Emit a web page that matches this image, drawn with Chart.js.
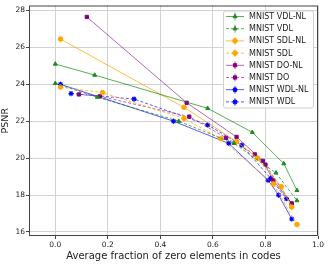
<!DOCTYPE html>
<html lang="en">
<head>
    <meta charset="UTF-8">
    <title>PSNR vs sparsity</title>
    <style>
        html, body { margin: 0; padding: 0; background: #fff; }
        #wrap { width: 330px; height: 264px; }
    </style>
</head>
<body>
    <div id="wrap"><canvas id="psnrChart"></canvas></div>

    <script src="https://cdn.jsdelivr.net/npm/chart.js"></script>

    <script>
        // values
        const vdlNlX = [0.0, 0.15, 0.58, 0.75, 0.87, 0.92];
        const vdlNlY = [25.1, 24.5, 22.7, 21.4, 19.7, 18.25];
        const vdlX = [0.0, 0.16, 0.47, 0.68, 0.84, 0.92];
        const vdlY = [24.05, 23.3, 22.0, 20.8, 19.2, 17.7];
        const sdlNlX = [0.02, 0.49, 0.69, 0.77, 0.86, 0.90];
        const sdlNlY = [26.45, 22.75, 20.9, 20.0, 18.45, 17.35];
        const sdlX = [0.02, 0.18, 0.49, 0.63, 0.83, 0.92];
        const sdlY = [23.85, 23.55, 22.15, 21.05, 18.6, 16.4];
        const doNlX = [0.12, 0.50, 0.69, 0.79, 0.83, 0.90];
        const doNlY = [27.65, 23.0, 21.15, 19.85, 18.8, 17.55];
        const doX = [0.09, 0.17, 0.51, 0.65, 0.76, 0.80, 0.90];
        const doY = [23.45, 23.35, 22.25, 21.1, 20.2, 19.65, 17.5];
        const wdlNlX = [0.02, 0.45, 0.66, 0.81, 0.85, 0.90];
        const wdlNlY = [24.0, 22.0, 20.8, 18.8, 18.0, 16.7];
        const wdlX = [0.06, 0.30, 0.58, 0.71, 0.82, 0.88];
        const wdlY = [23.5, 23.2, 21.8, 20.7, 18.9, 17.8];

        const xTicks = [0.0, 0.2, 0.4, 0.6, 0.8, 1.0];
        const yTicks = [16, 18, 20, 22, 24, 26, 28];

        function pts(xs, ys) {
            return xs.map((x, i) => ({ x: x, y: ys[i] }));
        }

        function series(label, xs, ys, color, lineColor, marker, dashed) {
            return {
                label: label,
                data: pts(xs, ys),
                showLine: true,
                borderColor: lineColor,
                borderWidth: 1,
                borderDash: dashed ? [3, 2] : [],
                pointStyle: marker,
                pointRadius: marker === 'star' ? 2.6 : 2.3,
                pointBorderWidth: marker === 'star' ? 1.2 : 1,
                pointBackgroundColor: color,
                pointBorderColor: color,
                fill: false
            };
        }

        const datasets = [
            series('MNIST VDL-NL', vdlNlX, vdlNlY, '#1f8a1f', 'rgba(0,128,0,0.65)', 'triangle', false),
            series('MNIST VDL', vdlX, vdlY, '#1f8a1f', 'rgba(0,128,0,0.65)', 'triangle', true),
            series('MNIST SDL-NL', sdlNlX, sdlNlY, '#ffa500', 'rgba(255,165,0,0.75)', 'circle', false),
            series('MNIST SDL', sdlX, sdlY, '#ffa500', 'rgba(255,165,0,0.75)', 'circle', true),
            series('MNIST DO-NL', doNlX, doNlY, '#800080', 'rgba(128,0,128,0.6)', 'rect', false),
            series('MNIST DO', doX, doY, '#800080', 'rgba(128,0,128,0.6)', 'rect', true),
            series('MNIST WDL-NL', wdlNlX, wdlNlY, '#0000ff', 'rgba(0,0,255,0.65)', 'star', false),
            series('MNIST WDL', wdlX, wdlY, '#0000ff', 'rgba(0,0,255,0.65)', 'star', true)
        ];

        // box around the plot area
        const frame = {
            id: 'frame',
            afterDatasetsDraw(chart) {
                const a = chart.chartArea;
                const c = chart.ctx;
                c.save();
                c.strokeStyle = '#444';
                c.lineWidth = 1;
                c.strokeRect(a.left + 0.5, a.top + 0.5, a.right - a.left - 1, a.bottom - a.top - 1);
                c.restore();
            }
        };

        // matplotlib-like legend inside the top-right corner
        const boxLegend = {
            id: 'boxLegend',
            afterDraw(chart) {
                const c = chart.ctx;
                const a = chart.chartArea;
                const bx = a.right - 95, by = a.top + 5, bw = 90, bh = 97;
                c.save();
                c.fillStyle = 'rgba(255,255,255,0.85)';
                c.strokeStyle = '#d0d0d0';
                c.lineWidth = 1;
                c.beginPath();
                c.roundRect(bx + 0.5, by + 0.5, bw, bh, 2);
                c.fill();
                c.stroke();
                c.font = '8px "DejaVu Sans"';
                c.textBaseline = 'middle';
                c.fillStyle = '#222';
                chart.data.datasets.forEach((ds, i) => {
                    const y = by + 6 + i * 12.2;
                    const x0 = bx + 3, x1 = bx + 21, xm = (x0 + x1) / 2;
                    c.strokeStyle = ds.borderColor;
                    c.lineWidth = 1;
                    c.setLineDash(ds.borderDash);
                    c.beginPath();
                    c.moveTo(x0, y);
                    c.lineTo(x1, y);
                    c.stroke();
                    c.setLineDash([]);
                    c.beginPath();
                    c.moveTo(xm, y - 4);
                    c.lineTo(xm, y + 4);
                    c.stroke();
                    c.fillStyle = ds.pointBackgroundColor;
                    c.strokeStyle = ds.pointBorderColor;
                    c.lineWidth = ds.pointBorderWidth;
                    Chart.helpers.drawPoint(c, { pointStyle: ds.pointStyle, radius: ds.pointRadius, borderWidth: ds.pointBorderWidth, rotation: 0 }, xm, y);
                    c.fillStyle = '#222';
                    c.fillText(ds.label, bx + 26, y + 0.5);
                });
                c.restore();
            }
        };

        Chart.defaults.font.family = '"DejaVu Sans", sans-serif';
        Chart.defaults.color = '#222';

        new Chart(document.getElementById('psnrChart'), {
            type: 'scatter',
            data: { datasets: datasets },
            options: {
                responsive: true,
                maintainAspectRatio: false,
                animation: false,
                layout: { padding: { left: 0, right: 12, top: 5, bottom: 0 } },
                plugins: {
                    legend: { display: false },
                    tooltip: { enabled: false }
                },
                scales: {
                    x: {
                        type: 'linear',
                        min: -0.1,
                        max: 1.0,
                        afterBuildTicks: s => { s.ticks = xTicks.map(v => ({ value: v })); },
                        afterFit: s => { s.height = 28; },
                        ticks: {
                            font: { size: 7.5 },
                            padding: 2,
                            maxRotation: 0,
                            callback: v => v.toFixed(1)
                        },
                        grid: { color: '#d2d2d2', tickColor: '#444', tickLength: 3 },
                        border: { display: false },
                        title: {
                            display: true,
                            text: 'Average fraction of zero elements in codes',
                            font: { size: 10 },
                            padding: { top: 0, bottom: 2 }
                        }
                    },
                    y: {
                        type: 'linear',
                        min: 15.78,
                        max: 28.27,
                        afterBuildTicks: s => { s.ticks = yTicks.map(v => ({ value: v })); },
                        afterFit: s => { s.width = 29; },
                        ticks: { font: { size: 7.5 }, padding: 1 },
                        grid: { color: '#d2d2d2', tickColor: '#444', tickLength: 3 },
                        border: { display: false },
                        title: {
                            display: true,
                            text: 'PSNR',
                            font: { size: 9.5 },
                            padding: { top: 0, bottom: 1 }
                        }
                    }
                }
            },
            plugins: [frame, boxLegend]
        });
    </script>
</body>
</html>
